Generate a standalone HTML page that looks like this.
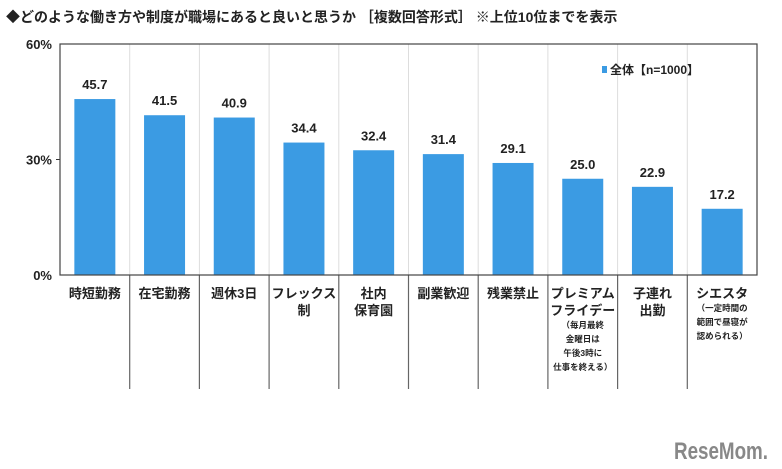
<!DOCTYPE html>
<html><head><meta charset="utf-8"><style>
body{margin:0;background:#fff;font-family:"Liberation Sans","Noto Sans CJK JP",sans-serif;}
#wrap{position:relative;width:782px;height:469px;overflow:hidden;}
text{font-family:"Liberation Sans","Noto Sans CJK JP",sans-serif;font-weight:bold;fill:#222;}
</style></head><body><div id="wrap">
<svg id="svg" width="782" height="469" xmlns="http://www.w3.org/2000/svg">
<text x="6" y="22" font-size="14">◆どのような働き方や制度が職場にあると良いと思うか ［複数回答形式］ ※上位10位までを表示</text>
<text x="674" y="459" font-size="24" textLength="94" lengthAdjust="spacingAndGlyphs" style="fill:#888">ReseMom.</text>
</svg></div>
<script>
const categories=[["時短勤務"],["在宅勤務"],["週休3日"],["フレックス","制"],["社内","保育園"],["副業歓迎"],["残業禁止"],["プレミアム","フライデー"],["子連れ","出勤"],["シエスタ"]];
const notes=[[],[],[],[],[],[],[],["（毎月最終","金曜日は","午後3時に","仕事を終える）"],[],["（一定時間の","範囲で昼寝が","認められる）"]];
const values=[45.7,41.5,40.9,34.4,32.4,31.4,29.1,25.0,22.9,17.2];
const ticks=[0,30,60];
const NS="http://www.w3.org/2000/svg";
const svg=document.getElementById('svg');
const L=60,R=757,T=44,B=275,maxV=60;
const bw=(R-L)/categories.length;
const y=v=>B-(v/maxV)*(B-T);
const x=i=>L+i*bw;
function mk(tag,attrs){const e=document.createElementNS(NS,tag);for(const k in attrs)e.setAttribute(k,attrs[k]);svg.appendChild(e);return e;}
for(let i=1;i<categories.length;i++){
 const g=mk('line',{x1:x(i),x2:x(i),y1:T,y2:B,stroke:'#ddd','stroke-width':1});
 
 
 const s=mk('line',{x1:x(i),x2:x(i),y1:B,y2:389,stroke:'#666','stroke-width':1.2});
 
 
}
ticks.forEach(t=>{
 const l=mk('text',{x:L-8,y:y(t)+5,'font-size':13,'text-anchor':'end'});
 l.textContent=t+'%';
 
 
 if(t===30){const m=mk('line',{x1:L-4,x2:L,y1:y(t),y2:y(t),stroke:'#333'});
 
 }
});
values.forEach((v,i)=>{
 const cx=x(i)+bw/2;
 const r=mk('rect',{x:cx-20.5,y:y(v),width:41,height:B-y(v),fill:'#3b9be3'});
 
 
 const t=mk('text',{x:cx,y:y(v)-10,'font-size':13,'text-anchor':'middle'});
 t.textContent=v.toFixed(1);
 
 
 let yy=298;
 categories[i].forEach(s=>{const c=mk('text',{x:cx,y:yy,'font-size':13,'text-anchor':'middle'});c.textContent=s;
  
  yy+=17;});
 yy-=4;
 notes[i].forEach(s=>{const c=mk('text',{x:cx,y:yy,'font-size':8.5,'text-anchor':'middle'});c.textContent=s;
  
  yy+=14;});
});
const f=mk('rect',{x:L,y:T,width:R-L,height:B-T,fill:'none',stroke:'#444','stroke-width':1.2});


const lm=mk('rect',{x:602,y:66,width:5,height:7,fill:'#3b9be3'});


const lt=mk('text',{x:610,y:74,'font-size':12});
lt.textContent='全体【n=1000】';


</script></body></html>
